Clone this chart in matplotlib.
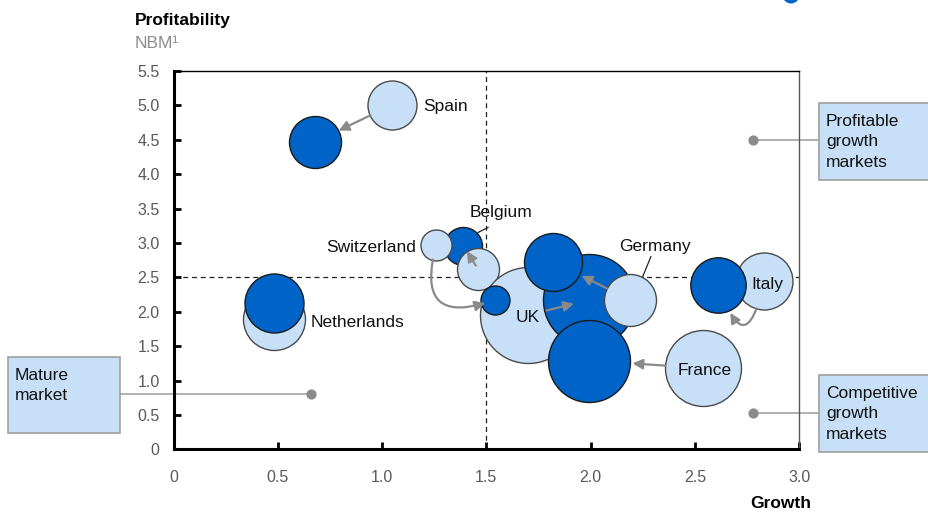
import numpy as np
import matplotlib.pyplot as plt
from matplotlib.patches import Rectangle, Ellipse

plt.rcParams['font.family'] = ['Liberation Sans', 'DejaVu Sans']

# Daten: alte Position (hell) und neue Position (dunkel)
countries = ["Spain", "Netherlands", "Switzerland", "Belgium", "UK", "Germany", "France", "Italy"]
x_old = [1.05, 0.48, 1.26, 1.46, 1.70, 2.19, 2.54, 2.83]
y_old = [5.01, 1.90, 2.97, 2.62, 1.95, 2.17, 1.18, 2.44]
s_old = [1245, 1993, 498, 914, 4778, 1402, 2994, 1684]
x_new = [0.68, 0.48, 1.54, 1.39, 1.99, 1.82, 1.99, 2.61]
y_new = [4.47, 2.12, 2.17, 2.96, 2.17, 2.73, 1.29, 2.39]
s_new = [1402, 1805, 436, 749, 4388, 1744, 3486, 1591]

label_x = [1.197, 0.659, 1.163, 1.571, 1.70, 2.309, 2.549, 2.847]
label_y = [4.98, 1.85, 2.93, 3.44, 1.91, 2.95, 1.14, 2.39]
label_ha = ["left", "left", "right", "center", "center", "center", "center", "center"]

xticks = [0, 0.5, 1.0, 1.5, 2.0, 2.5, 3.0]
xticklabels = ["0", "0.5", "1.0", "1.5", "2.0", "2.5", "3.0"]
yticks = [0, 0.5, 1.0, 1.5, 2.0, 2.5, 3.0, 3.5, 4.0, 4.5, 5.0, 5.5]
yticklabels = ["0", "0.5", "1.0", "1.5", "2.0", "2.5", "3.0", "3.5", "4.0", "4.5", "5.0", "5.5"]

DARK = "#0063c8"
LIGHT = "#c7e0f8"
GREY = "#8a8a8a"
BOX = "#c7e0f8"

fig = plt.figure(figsize=(9.29, 5.16), dpi=100)
ax = fig.add_axes([0.1868, 0.1293, 0.6734, 0.7331])
ax.set_xlim(0, 3)
ax.set_ylim(0, 5.5)

# Reihenfolge, in der die Blasen gezeichnet werden (Überdeckung)
order = [("Belgium", "new"), ("Belgium", "old"), ("Switzerland", "old"),
         ("UK", "old"), ("Switzerland", "new"), ("UK", "new"),
         ("Germany", "new"), ("Germany", "old"), ("France", "new"),
         ("France", "old"), ("Netherlands", "old"), ("Netherlands", "new"),
         ("Italy", "old"), ("Italy", "new"), ("Spain", "old"), ("Spain", "new")]

z = 3
for c, which in order:
    i = countries.index(c)
    if which == "old":
        ax.scatter(x_old[i], y_old[i], s=s_old[i], color=LIGHT,
                   edgecolor="#4a4a4a", linewidth=1.0, zorder=z)
    else:
        ax.scatter(x_new[i], y_new[i], s=s_new[i], color=DARK,
                   edgecolor="#1a1a1a", linewidth=1.0, zorder=z)
    z += 1

# Pfeile von alt nach neu
arrow_opts = {
    "Spain": (17.6, 18.7, 0.0),
    "Belgium": (3.0, 4.7, 0.0),
    "UK": (13.7, 10.8, 0.0),
    "Germany": (18.7, 23.0, 0.0),
    "France": (27.4, 31.7, 0.0),
    "Switzerland": (10.8, 7.2, 0.95),
    "Italy": (20.0, 22.0, -1.8),
}
for c, (sa, sb, rad) in arrow_opts.items():
    i = countries.index(c)
    ax.annotate("", xy=(x_new[i], y_new[i]), xytext=(x_old[i], y_old[i]),
                arrowprops=dict(arrowstyle="-|>", color=GREY, lw=1.6,
                                mutation_scale=15, shrinkA=sa, shrinkB=sb,
                                connectionstyle=f"arc3,rad={rad}"),
                zorder=30)

for i, c in enumerate(countries):
    ax.text(label_x[i], label_y[i], c, ha=label_ha[i], va="center",
            fontsize=12.5, color="#111111", zorder=40)

# Führungslinien für Belgium und Germany
ax.plot([1.508, 1.460], [3.225, 3.152], color="#222222", lw=0.9, zorder=40)
ax.plot([2.289, 2.250], [2.80, 2.51], color="#222222", lw=0.9, zorder=40)

# Quadrantenlinien
ax.axvline(1.5, color="#222222", lw=0.9, ls=(0, (4, 3)), zorder=1)
ax.axhline(2.5, color="#222222", lw=0.9, ls=(0, (4, 3)), zorder=1)

ax.set_xticks(xticks)
ax.set_xticklabels(xticklabels)
ax.set_yticks(yticks)
ax.set_yticklabels(yticklabels)
ax.tick_params(axis="both", direction="in", length=5, width=2, color="black",
               labelsize=11.5, labelcolor="#595959")
ax.tick_params(axis="x", pad=15)
ax.tick_params(axis="y", pad=10)
ax.spines["left"].set_linewidth(2.2)
ax.spines["bottom"].set_linewidth(2.2)
ax.spines["top"].set_linewidth(1.0)
ax.spines["right"].set_linewidth(1.0)
ax.spines["right"].set_color("#555555")

# Beschriftung der Achsen
fig.text(135 / 929, 1 - 21 / 516, "Profitability", fontsize=12.5,
         fontweight="bold", ha="left", va="center")
fig.text(135 / 929, 1 - 43 / 516, "NBM\u00b9", fontsize=12.5,
         color="#8c8c8c", ha="left", va="center")
fig.text(811 / 929, 1 - 503 / 516, "Growth", fontsize=12.5,
         fontweight="bold", ha="right", va="center")

# Kästen mit Marktsegmenten
box_specs = [
    ("Profitable\ngrowth\nmarkets", 819, 103, 130, 77, (2.78, 4.50), 3.097),
    ("Mature\nmarket", 8, 357, 112, 76, (0.66, 0.80), -0.257),
    ("Competitive\ngrowth\nmarkets", 819, 375, 130, 77, (2.78, 0.53), 3.097),
]
for txt, bx, by, bw, bh, dot, edge_x in box_specs:
    fig.add_artist(Rectangle((bx / 929, 1 - (by + bh) / 516), bw / 929, bh / 516,
                             transform=fig.transFigure, facecolor=BOX,
                             edgecolor="#a0a0a0", lw=1.2))
    fig.text((bx + 7) / 929, 1 - (by + 11) / 516, txt, fontsize=12.5,
             ha="left", va="top", linespacing=1.45, color="#111111")
    ax.plot([dot[0], edge_x], [dot[1], dot[1]], color="#b0b0b0", lw=1.4,
            clip_on=False, zorder=2)
    ax.scatter([dot[0]], [dot[1]], s=40, color=GREY, zorder=3, clip_on=False)

# Rest der abgeschnittenen Legende oben rechts
fig.add_artist(Ellipse((791 / 929, 1 + 5 / 516), 17 / 929, 17 / 516,
                       transform=fig.transFigure, facecolor=DARK, edgecolor="none"))

fig.savefig("out.png", dpi=100)
